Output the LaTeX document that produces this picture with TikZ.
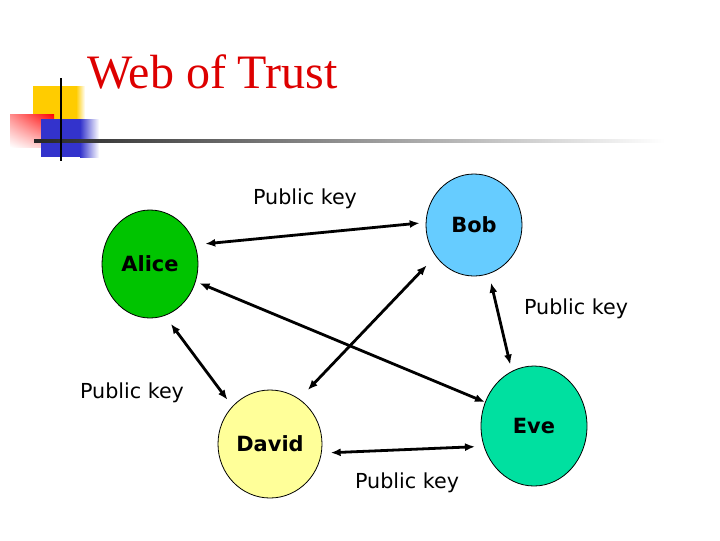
\documentclass[tikz,border=0pt]{standalone}
\usepackage{fontspec}
\setmainfont{Liberation Serif}
\newfontfamily\dejavu{DejaVu Sans}
\usepackage{tikz}
\usetikzlibrary{shapes.geometric,arrows.meta,shadings}

\definecolor{titlered}{RGB}{221,0,0}
\definecolor{alicegreen}{RGB}{0,196,0}
\definecolor{bobblue}{RGB}{102,204,255}
\definecolor{davidyellow}{RGB}{255,255,153}
\definecolor{evegreen}{RGB}{0,224,160}
\definecolor{decoyellow}{RGB}{255,204,0}
\definecolor{decoblue}{RGB}{51,51,204}

\newcommand{\keyfont}{\dejavu\fontsize{15.5pt}{18pt}\selectfont}
\newcommand{\namefont}{\dejavu\bfseries\fontsize{15.7pt}{18pt}\selectfont}

\begin{document}
\begin{tikzpicture}[x=0.75pt,y=0.75pt,yscale=-1,xscale=1,
  person/.style={ellipse, draw, line width=0.6pt, inner sep=0pt, font=\namefont},
  keyline/.style={{Latex[length=7.5pt,width=6pt]}-{Latex[length=7.5pt,width=6pt]}, line width=2.1pt},
  keylabel/.style={inner sep=0.75pt, font=\keyfont}]
\useasboundingbox (0,0) rectangle (720,540);

%Shape: title decoration
\fill [decoyellow] (33,86) rectangle (76,125);
\shade [left color=decoyellow, right color=white] (76,86) rectangle (85,125);
\shade [upper left=red!45, upper right=red, lower right=red!25, lower left=white] (10,114) rectangle (54,147);
\fill [decoblue] (41,119) rectangle (80,157);
\shade [left color=decoblue, right color=white] (80,119) rectangle (99,157);
\shade [left color=black!85, right color=white] (34,139.5) rectangle (665,142.5);
\draw [line width=1.5pt] (61,78) -- (61,161);

% Text Node
\node (title) [anchor=base west, inner sep=0pt, text=titlered, font=\fontsize{36pt}{40pt}\selectfont] at (87,88) {Web of Trust};

%Shape: Ellipses
\node (alice) [person, fill=alicegreen, minimum width=72pt, minimum height=81pt] at (150,264) {Alice};
\node (bob) [person, fill=bobblue, minimum width=72pt, minimum height=76.5pt] at (474,225) {Bob};
\node (david) [person, fill=davidyellow, minimum width=78pt, minimum height=81pt] at (270,444) {David};
\node (eve) [person, fill=evegreen, minimum width=79.5pt, minimum height=90pt] at (534,426) {Eve};

%Straight Lines
\draw [keyline, shorten <=7.5pt, shorten >=4.5pt] (alice.23) -- (bob.177);
\draw [keyline, shorten <=3pt] (alice.-21) -- (eve.154);
\draw [keyline, shorten <=9.5pt, shorten >=9.2pt] (bob.219) -- (david.57);
\draw [keyline, shorten <=7.5pt, shorten >=6pt] (alice.-74) -- (david.135);
\draw [keyline, shorten <=6.75pt, shorten >=5pt] (bob.-73) -- (eve.112);
\draw [keyline, shorten <=6.75pt, shorten >=6.5pt] (david.-10) -- (eve.202);

% Text Node
\node (keyab) [keylabel] at (305,199) {Public key};
\node (keybe) [keylabel] at (576,309) {Public key};
\node (keyad) [keylabel] at (132,393) {Public key};
\node (keyde) [keylabel] at (407,483) {Public key};

\end{tikzpicture}
\end{document}
